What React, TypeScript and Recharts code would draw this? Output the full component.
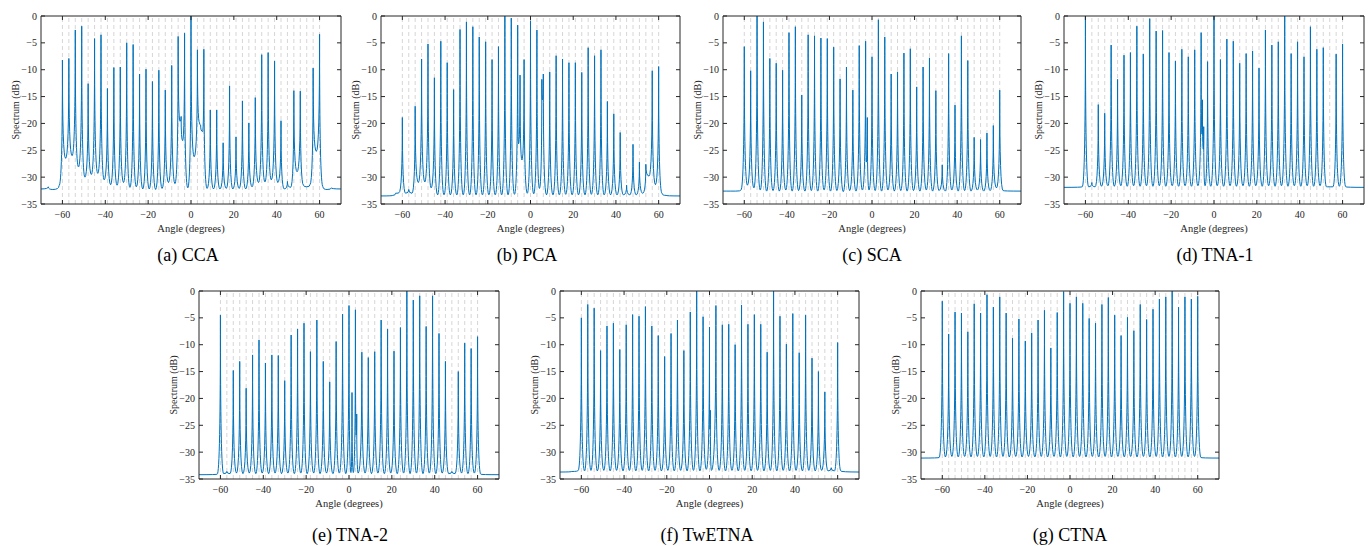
import React from 'react';
import { LineChart, Line, XAxis, YAxis, ReferenceLine } from 'recharts';

// true source directions (degrees)
const ANGLES = [-60, -57, -54, -51, -48, -45, -42, -39, -36, -33, -30, -27, -24, -21, -18, -15, -12, -9, -6, -3, 0, 3, 6, 9, 12, 15, 18, 21, 24, 27, 30, 33, 36, 39, 42, 45, 48, 51, 54, 57, 60];
const X_TICKS = [-60, -40, -20, 0, 20, 40, 60];
const Y_TICKS = [-35, -30, -25, -20, -15, -10, -5, 0];

type Pt = [number, number];

// (a) CCA
const ccaPeaks = [-8.2, -7.9, -2.6, -1.9, -12.6, -4.2, -3.5, -13.5, -9.6, -9.5, -5.0, -5.3, -10.8, -9.9, -12.2, -10.1, -13.8, -9.2, -3.8, -3.2, 0, -6.3, -6.2, -17.5, -17.5, -23.6, -13.0, -22.5, -15.8, -19.9, -15.2, -7.2, -6.8, -8.4, -19.5, -30.8, -13.9, -14.0, -31.8, -9.7, -3.4];
const ccaValleys = [-26.5, -26.0, -28.1, -30.0, -29.5, -29.3, -30.5, -31.4, -31.5, -31.0, -31.9, -31.8, -32.2, -32.2, -32.3, -32.1, -31.0, -31.2, null, -32.0, -26.2, null, -32.1, -32.2, -32.2, -32.1, -32.2, -32.1, -32.2, -31.8, -31.0, -30.9, -30.5, -31.0, -32.2, -31.9, -29.0, -31.5, -31.4, -25.2];
const ccaExtras: Pt[] = [[-5.1, -19.6], [-4.6, -18.7], [-3.9, -23.2], [4.0, -19.9], [4.5, -20.3], [5.4, -21.5]];
const ccaLeft: Pt[] = [[-70, -32.2], [-66.6, -31.8], [-64.5, -32.3], [-61.6, -31.6]];
const ccaRight: Pt[] = [[61.6, -31.8], [63.5, -32.3], [65.5, -32.0], [70, -32.2]];

// (b) PCA
const pcaPeaks = [-18.9, -32.3, -16.8, -8.0, -5.2, -11.5, -4.7, -8.7, -13.7, -2.5, -1.1, -2.0, -3.9, -4.8, -8.1, -5.7, 0, -0.4, -1.7, -8.1, -0.9, -2.6, -10.8, -10.4, -7.4, -8.0, -8.7, -8.7, -10.5, -5.9, -7.4, -6.3, -15.9, -18.2, -21.7, -31.5, -23.9, -27.2, -27.6, -10.2, -9.4];
const pcaValleys = [-33.0, -33.0, -31.0, -30.9, -32.0, -33.3, -33.3, -33.3, -33.3, -33.3, -33.3, -33.3, -33.3, -33.3, -33.3, -33.3, -33.3, -33.2, null, -33.0, -33.1, null, -33.3, -33.3, -33.3, -33.2, -33.3, -33.3, -33.3, -33.2, -33.3, -33.3, -33.3, -33.3, -33.3, -33.3, -33.3, -33.0, -29.8, -31.4];
const pcaExtras: Pt[] = [[-5.6, -23.8], [-4.9, -11.0], [-4.0, -26.8], [4.2, -32.1], [5.3, -11.8], [5.6, -15.6]];
const pcaLeft: Pt[] = [[-70, -33.5], [-64.5, -33.4], [-63.2, -33.0], [-61.6, -32.9]];
const pcaRight: Pt[] = [[61.6, -33.0], [63.5, -33.4], [70, -33.5]];

// (c) SCA
const scaPeaks = [-5.7, -10.2, 0, -1.1, -7.9, -8.8, -10.1, -3.1, -2.0, -14.7, -3.5, -3.7, -4.1, -4.2, -5.8, -11.7, -9.5, -13.8, -5.5, -4.7, -7.6, -0.7, -3.9, -10.8, -10.4, -6.9, -6.1, -13.2, -9.5, -7.8, -13.9, -27.7, -7.0, -16.6, -3.7, -8.3, -22.6, -23.0, -21.8, -20.4, -13.8];
const scaValleys = [-31.5, -32.0, -32.4, -32.6, -32.5, -32.6, -32.4, -32.6, -32.5, -32.6, -32.5, -32.6, -32.4, -32.6, -32.5, -32.7, -32.5, -32.6, -32.4, null, -32.5, -32.6, -32.4, -32.6, -32.5, -32.6, -32.5, -32.6, -32.4, -32.6, -32.5, -32.6, -32.4, -32.6, -32.5, -32.6, -32.4, -32.6, -32.5, -32.0];
const scaExtras: Pt[] = [[-2.6, -27.2], [-2.2, -18.9], [-1.4, -32.4]];
const scaLeft: Pt[] = [[-70, -32.6], [-64, -32.6], [-61.6, -32.4]];
const scaRight: Pt[] = [[61.6, -32.5], [70, -32.6]];

// (d) TNA-1
const tna1Peaks = [0, -31.0, -16.5, -18.1, -5.4, -11.8, -7.3, -6.8, -1.9, -7.1, -0.5, -2.8, -2.7, -6.8, -8.4, -6.2, -7.6, -6.3, -3.1, -8.5, 0, -8.1, -4.3, -4.7, -8.8, -7.0, -6.5, -9.7, -2.6, -5.4, -4.8, 0, -7.0, -4.8, -7.6, -2.0, -6.2, -5.9, -31.8, -7.1, -5.2];
const tna1Valleys = [-31.8, -31.8, -31.7, -31.6, -31.7, -31.6, -31.7, -31.6, -31.7, -31.6, -31.7, -31.6, -31.7, -31.6, -31.7, -31.6, -31.7, -31.6, null, -31.7, -31.6, -31.7, -31.6, -31.7, -31.6, -31.7, -31.6, -31.7, -31.6, -31.7, -31.6, -31.7, -31.6, -31.7, -31.6, -31.7, -31.6, -31.8, -31.8, -31.7];
const tna1Extras: Pt[] = [[-5.6, -22.0], [-5.4, -15.6], [-5.0, -24.8], [-4.8, -20.6], [-4.2, -31.6]];
const tna1Left: Pt[] = [[-70, -31.9], [-61.5, -31.8]];
const tna1Right: Pt[] = [[61.5, -31.8], [70, -31.9]];

// (e) TNA-2
const tna2Peaks = [-4.5, -33.6, -14.8, -13.1, -18.1, -11.9, -9.1, -13.4, -11.9, -12.0, -16.7, -8.2, -7.1, -6.0, -11.3, -5.4, -13.1, -16.9, -9.4, -4.3, -2.7, -3.5, -11.4, -12.4, -11.3, -5.4, -7.1, -11.2, -6.8, 0, -1.7, -0.9, -6.6, -0.9, -7.9, -13.1, -33.6, -15.0, -9.7, -10.7, -8.5];
const tna2Valleys = [-34.0, -34.0, -33.9, -34.0, -33.9, -34.0, -33.9, -34.0, -33.9, -34.0, -33.9, -34.0, -33.9, -34.0, -33.9, -34.0, -33.9, -34.0, -33.9, -34.0, null, null, -33.9, -34.0, -33.9, -34.0, -33.9, -34.0, -33.9, -34.0, -33.9, -34.0, -33.9, -34.0, -33.9, -34.0, -34.0, -33.9, -34.0, -33.9];
const tna2Extras: Pt[] = [[0.9, -33.8], [1.4, -18.9], [2.0, -33.8], [3.35, -26.8], [3.6, -22.9], [4.3, -33.9]];
const tna2Left: Pt[] = [[-70, -34.2], [-61.5, -34.1]];
const tna2Right: Pt[] = [[61.5, -34.1], [70, -34.2]];

// (f) TwETNA
const twePeaks = [-5.0, -2.5, -3.2, -11.1, -6.5, -6.0, -10.9, -6.3, -4.4, -4.7, -2.9, -6.5, -8.3, -12.2, -7.9, -5.4, -11.1, -3.9, 0, -4.8, -6.7, -2.7, -6.3, -6.2, -10.0, -2.6, -6.2, -4.4, -6.2, -11.4, 0, -4.7, -9.9, -4.2, -11.5, -4.5, -12.5, -15.0, -18.8, -32.9, -9.6];
const tweValleys = [-33.5, -33.4, -33.5, -33.4, -33.5, -33.4, -33.5, -33.4, -33.5, -33.4, -33.5, -33.4, -33.5, -33.4, -33.5, -33.4, -33.5, -33.4, -33.5, -33.2, null, -33.4, -33.5, -33.4, -33.5, -33.4, -33.5, -33.4, -33.5, -33.4, -33.5, -33.4, -33.5, -33.4, -33.5, -33.4, -33.5, -33.4, -33.5, -33.5];
const tweExtras: Pt[] = [[0.2, -25.7], [0.4, -22.2], [0.9, -33.4]];
const tweLeft: Pt[] = [[-70, -33.7], [-64.5, -33.6], [-61.5, -33.4]];
const tweRight: Pt[] = [[61.5, -33.5], [70, -33.7]];

// (g) CTNA
const ctnaPeaks = [-1.9, -8.0, -3.9, -4.1, -7.6, -2.4, -4.1, -0.7, -3.0, -1.1, -4.1, -8.8, -5.2, -9.3, -7.8, -5.4, -3.6, -10.6, -4.0, -0.1, -2.3, -1.1, -2.3, -5.1, -6.0, -2.5, -1.2, -4.5, -8.3, -4.9, -7.4, -2.5, -5.3, -3.4, -1.5, -1.1, 0, -3.0, -1.1, -1.5, -1.0];
const ctnaValleys = [-30.9, -30.8, -30.9, -30.8, -30.9, -30.8, -30.9, -30.8, -30.9, -30.8, -30.9, -30.8, -30.9, -30.8, -30.9, -30.8, -30.9, -30.8, -30.9, -30.8, -30.9, -30.8, -30.9, -30.8, -30.9, -30.8, -30.9, -30.8, -30.9, -30.8, -30.9, -30.8, -30.9, -30.8, -30.9, -30.8, -30.9, -30.8, -30.9, -30.8];
const ctnaExtras: Pt[] = [];
const ctnaLeft: Pt[] = [[-70, -31.1], [-61.5, -31.0]];
const ctnaRight: Pt[] = [[61.5, -31.0], [70, -31.1]];

interface SpecPoint {
  angle: number;
  db: number;
}

// peaks sit on the source angles, valleys between them; where a valley is null
// the extra points read for that gap are used instead
const buildSpectrum = (peaks: number[], valleys: (number | null)[], extras: Pt[], left: Pt[], right: Pt[]): SpecPoint[] => {
  const pts: SpecPoint[] = left.map(([a, d]) => ({ angle: a, db: d }));
  ANGLES.forEach((a, i) => {
    pts.push({ angle: a, db: peaks[i] });
    if (i < ANGLES.length - 1) {
      const next = ANGLES[i + 1];
      const v = valleys[i];
      if (v === null) {
        extras.filter(([x]) => x > a && x < next).forEach(([x, d]) => pts.push({ angle: x, db: d }));
      } else {
        pts.push({ angle: (a + next) / 2, db: v });
      }
    }
  });
  right.forEach(([a, d]) => pts.push({ angle: a, db: d }));
  return pts;
};

// curve for the line: each segment bends like a spectral peak, leaving the
// higher point vertically and meeting the lower point horizontally
const peakCurve = (context: any) => {
  let px = 0;
  let py = 0;
  let started = false;
  return {
    areaStart() {},
    areaEnd() {},
    lineStart() {
      started = false;
    },
    lineEnd() {},
    point(xIn: number, yIn: number) {
      const x = +xIn;
      const y = +yIn;
      if (!started) {
        context.moveTo(x, y);
        started = true;
      } else {
        const cx = y < py ? x : px;
        const cy = Math.max(y, py);
        context.quadraticCurveTo(cx, cy, x, y);
      }
      px = x;
      py = y;
    },
  };
};

const FONT = "'Liberation Serif', 'Times New Roman', serif";
const AXIS = '#262626';
const BLUE = '#0072BD';
const PLOT_H = 188;
const Y_AXIS_W = 40;
const X_AXIS_H = 34;
const TOP_PAD = 7;
const RIGHT_PAD = 4;

const tickStyle = { fontSize: 10, fill: AXIS, fontFamily: FONT };
const fmt = (v: number) => (v < 0 ? `\u2212${Math.abs(v)}` : `${v}`);

interface PanelProps {
  data: SpecPoint[];
  left: number;
  top: number;
  plotWidth: number;
  caption: string;
  captionX: number;
  captionY: number;
}

const SpectrumPanel: React.FC<PanelProps> = ({ data, left, top, plotWidth, caption, captionX, captionY }) => (
  <>
    <div style={{ position: 'absolute', left: left - Y_AXIS_W, top: top - TOP_PAD - 1, fontFamily: FONT }}>
      <LineChart
        width={Y_AXIS_W + plotWidth + 1 + RIGHT_PAD}
        height={TOP_PAD + 1 + PLOT_H + X_AXIS_H}
        data={data}
        margin={{ top: TOP_PAD, right: RIGHT_PAD, bottom: 0, left: 0 }}
      >
        <XAxis
          dataKey="angle"
          type="number"
          domain={[-70, 70]}
          ticks={X_TICKS}
          allowDataOverflow
          height={X_AXIS_H}
          tickSize={-4}
          tickMargin={11}
          tick={tickStyle}
          tickFormatter={fmt}
          stroke={AXIS}
          label={{ value: 'Angle (degrees)', position: 'insideBottom', offset: 6, fontSize: 10.5, fill: AXIS, fontFamily: FONT }}
        />
        <XAxis xAxisId="top" orientation="top" type="number" dataKey="angle" domain={[-70, 70]} ticks={X_TICKS} allowDataOverflow height={1} tickSize={-4} tick={() => <g />} stroke={AXIS} />
        <YAxis
          type="number"
          domain={[-35, 0]}
          ticks={Y_TICKS}
          allowDataOverflow
          width={Y_AXIS_W}
          tickSize={-4}
          tickMargin={8}
          tick={tickStyle}
          tickFormatter={fmt}
          stroke={AXIS}
          label={{ value: 'Spectrum (dB)', angle: -90, position: 'insideLeft', offset: 14, fontSize: 10, fill: AXIS, fontFamily: FONT, style: { textAnchor: 'middle' } }}
        />
        <YAxis yAxisId="right" orientation="right" type="number" domain={[-35, 0]} ticks={Y_TICKS} allowDataOverflow width={1} tickSize={-4} tick={() => <g />} stroke={AXIS} />
        {ANGLES.map(a => (
          <ReferenceLine key={a} x={a} stroke="#cccccc" strokeWidth={0.8} strokeDasharray="4 3" />
        ))}
        <Line dataKey="db" type={peakCurve as any} stroke={BLUE} strokeWidth={1} dot={false} isAnimationActive={false} />
      </LineChart>
    </div>
    <div
      style={{
        position: 'absolute',
        left: captionX - 100,
        top: captionY - 11,
        width: 200,
        textAlign: 'center',
        fontFamily: FONT,
        fontSize: 18,
        lineHeight: '22px',
        color: '#000',
      }}
    >
      {caption}
    </div>
  </>
);

const panels = [
  { caption: '(a) CCA', data: buildSpectrum(ccaPeaks, ccaValleys, ccaExtras, ccaLeft, ccaRight), left: 41, top: 16, plotWidth: 300, captionX: 188, captionY: 255 },
  { caption: '(b) PCA', data: buildSpectrum(pcaPeaks, pcaValleys, pcaExtras, pcaLeft, pcaRight), left: 381, top: 16, plotWidth: 299, captionX: 527, captionY: 255 },
  { caption: '(c) SCA', data: buildSpectrum(scaPeaks, scaValleys, scaExtras, scaLeft, scaRight), left: 723, top: 16, plotWidth: 298, captionX: 872, captionY: 255 },
  { caption: '(d) TNA-1', data: buildSpectrum(tna1Peaks, tna1Valleys, tna1Extras, tna1Left, tna1Right), left: 1064, top: 16, plotWidth: 300, captionX: 1215, captionY: 255 },
  { caption: '(e) TNA-2', data: buildSpectrum(tna2Peaks, tna2Valleys, tna2Extras, tna2Left, tna2Right), left: 199, top: 291, plotWidth: 300, captionX: 350, captionY: 535 },
  { caption: '(f) TwETNA', data: buildSpectrum(twePeaks, tweValleys, tweExtras, tweLeft, tweRight), left: 560, top: 291, plotWidth: 299, captionX: 707, captionY: 535 },
  { caption: '(g) CTNA', data: buildSpectrum(ctnaPeaks, ctnaValleys, ctnaExtras, ctnaLeft, ctnaRight), left: 921, top: 291, plotWidth: 298, captionX: 1070, captionY: 535 },
];

const App: React.FC = () => (
  <div style={{ position: 'absolute', left: 0, top: 0, width: 1370, height: 546, overflow: 'hidden', background: '#fff' }}>
    {panels.map(p => (
      <SpectrumPanel key={p.caption} {...p} />
    ))}
  </div>
);

export default App;
